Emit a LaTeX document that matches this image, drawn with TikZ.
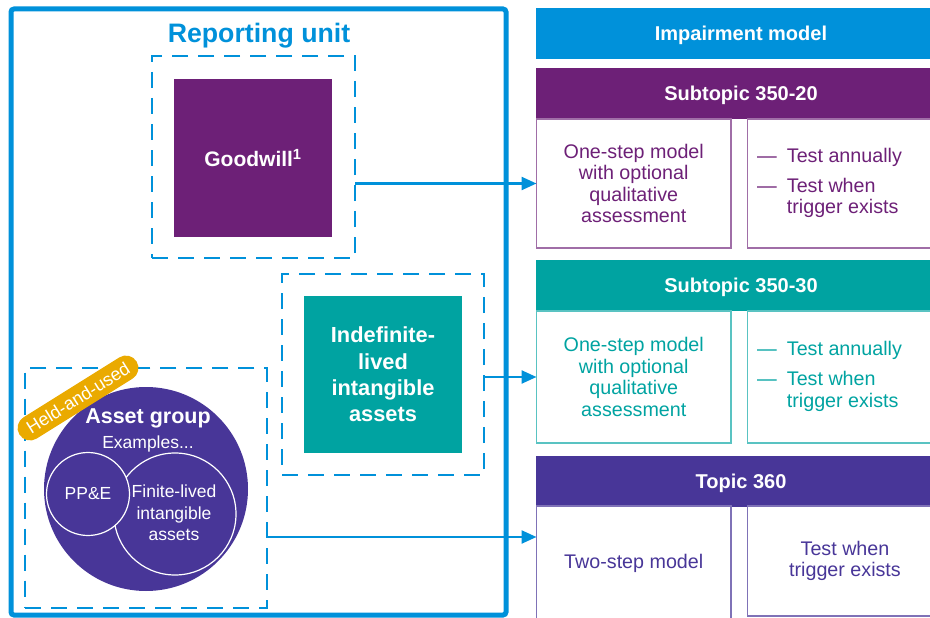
\documentclass[tikz,border=0pt]{standalone}
\usepackage{fontspec}
\setmainfont{Liberation Sans}
\usetikzlibrary{arrows.meta}
\definecolor{kblue}{HTML}{0091DA}
\definecolor{kpurple}{HTML}{6D2077}
\definecolor{kteal}{HTML}{00A3A1}
\definecolor{kviolet}{HTML}{483698}
\definecolor{korange}{HTML}{EAAA00}
\newcommand{\fsz}[2]{\fontsize{#1}{#2}\selectfont}
\begin{document}
\begin{tikzpicture}[x=1pt,y=-1pt,
  box/.style={anchor=north west, inner sep=0pt, outer sep=0pt},
  dbox/.style={box, draw=kblue, line width=2.4pt, dash pattern=on 16pt off 10pt},
  solidbox/.style={box, text=white, align=center, minimum width=158pt, minimum height=158pt},
  hdr/.style={box, text=white, font=\bfseries\fsz{20}{22}, text depth=0pt, minimum width=410pt, minimum height=51pt},
  cell/.style={box, line width=1.1pt, font=\fsz{19.7}{21.5}, align=center},
  lcell/.style={cell, minimum width=194.5pt},
  rcell/.style={cell, minimum width=195pt},
  bullets/.style={anchor=west, inner sep=0pt, font=\fsz{19.7}{21.5}},
  arr/.style={draw=kblue, line width=2.4pt, -{Triangle[length=15pt,width=13pt]}},
  wtext/.style={text=white, inner sep=0pt, align=center},
]
\useasboundingbox (0,0) rectangle (930,618);
\clip (0,0) rectangle (930,618);

% ---------- right column ----------
\node[hdr, fill=kblue] (imp) at (536,8) {Impairment model};

\node[hdr, fill=kpurple] (h1) at (536,68) {Subtopic 350-20};
\node[lcell, draw=kpurple!65, text=kpurple, minimum height=129pt] (s1l) at (536.5,119)
  {One-step model\\with optional\\qualitative\\assessment};
\node[rcell, draw=kpurple!65, minimum height=129pt] (s1r) at (747.5,119) {};
\node[bullets, text=kpurple] (s1t) at ([xshift=9.5pt]s1r.west)
  {\begin{tabular}{@{}l@{\hspace{10pt}}l@{}}— & Test annually\\[8.5pt] — & Test when\\ & trigger exists\end{tabular}};

\node[hdr, fill=kteal] (h2) at (536,260) {Subtopic 350-30};
\node[lcell, draw=kteal!65, text=kteal, minimum height=132pt] (s2l) at (536.5,311)
  {One-step model\\with optional\\qualitative\\assessment};
\node[rcell, draw=kteal!65, minimum height=132pt] (s2r) at (747.5,311) {};
\node[bullets, text=kteal] (s2t) at ([xshift=9.5pt]s2r.west)
  {\begin{tabular}{@{}l@{\hspace{10pt}}l@{}}— & Test annually\\[8.5pt] — & Test when\\ & trigger exists\end{tabular}};

\node[hdr, fill=kviolet] (h3) at (536,456) {Topic 360};
\node[lcell, draw=kviolet!70, text=kviolet, minimum height=114pt] (s3l) at (536.5,506)
  {Two-step model};
\node[rcell, draw=kviolet!70, text=kviolet, minimum height=110pt] (s3r) at (747.5,506)
  {Test when\\trigger exists};

% ---------- reporting unit ----------
\node[box, draw=kblue, line width=5pt, rounded corners=3pt,
      minimum width=495pt, minimum height=606pt] (ru) at (11,9) {};
\node[text=kblue, font=\bfseries\fsz{26.7}{30}, inner sep=0pt] (rut) at (259,35.5) {Reporting unit};

% goodwill
\node[dbox, minimum width=203pt, minimum height=202pt] (gwd) at (152,56) {};
\node[solidbox, fill=kpurple, font=\bfseries\fsz{21}{24}] (gw) at (174,79) {Goodwill\textsuperscript{1}};

% indefinite-lived
\node[dbox, minimum width=202pt, minimum height=201pt] (idd) at (282,274) {};
\node[solidbox, fill=kteal, font=\bfseries\fsz{21.8}{26.3}, minimum height=157pt] (id) at (304,296)
  {Indefinite-\\lived\\intangible\\assets};

% asset group
\node[dbox, minimum width=241.7pt, minimum height=240pt] (agd) at (25,368) {};
\node[circle, fill=kviolet, minimum size=204pt, inner sep=0pt] (ag) at (146,489) {};
\node[circle, draw=white, line width=1.2pt, minimum size=122pt, inner sep=0pt] (fl) at (175,514) {};
\node[circle, fill=kviolet, draw=white, line width=1.2pt, minimum size=83pt, inner sep=0pt] (pp) at (88,494) {};
\node[wtext, font=\bfseries\fsz{21.5}{24}] (agt) at (148,418) {Asset group};
\node[wtext, font=\fsz{17.5}{20}] (ex) at (148,444) {Examples...};
\node[wtext, font=\fsz{17.5}{20}] (ppt) at (88,494) {PP\&E};
\node[wtext, font=\fsz{17.5}{21.5}] (flt) at (174,513) {Finite-lived\\intangible\\assets};

\node[fill=korange, text=white, rounded corners=12.5pt, rotate=32, font=\fsz{18}{20},
      inner xsep=10pt, inner ysep=2pt, minimum height=25pt] (hu) at (78,398) {Held-and-used};

% ---------- arrows ----------
\draw[arr] (gwd.east |- s1l.west) -- (s1l.west);
\draw[arr] (idd.east |- s2l.west) -- (s2l.west);
\coordinate (a3) at (266.7,537);
\draw[arr] (a3) -- (a3 -| s3l.west);
\end{tikzpicture}
\end{document}
